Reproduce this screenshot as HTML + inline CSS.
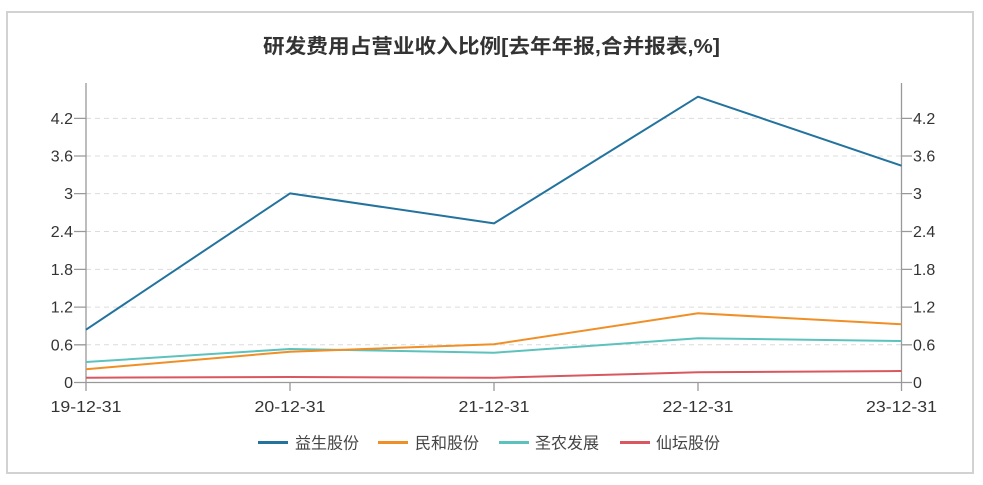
<!DOCTYPE html>
<html><head><meta charset="utf-8"><style>
html,body{margin:0;padding:0;background:#fff;}
svg{display:block;font-family:"Liberation Sans","Noto Sans CJK SC",sans-serif;}
</style></head><body>
<svg width="983" height="485" viewBox="0 0 983 485" xmlns="http://www.w3.org/2000/svg">
<rect x="0" y="0" width="983" height="485" fill="#fff"/>
<rect x="7" y="12" width="966" height="461" fill="#fff" stroke="#d2d2d2" stroke-width="2"/>
<text x="491.5" y="53" text-anchor="middle" font-size="20" font-weight="bold" fill="#333" textLength="457" lengthAdjust="spacingAndGlyphs">研发费用占营业收入比例[去年年报,合并报表,%]</text>
<g stroke="#dcdcdc" stroke-width="1" stroke-dasharray="5,4">
<line x1="86" y1="344.8" x2="901.5" y2="344.8"/>
<line x1="86" y1="307.1" x2="901.5" y2="307.1"/>
<line x1="86" y1="269.4" x2="901.5" y2="269.4"/>
<line x1="86" y1="231.5" x2="901.5" y2="231.5"/>
<line x1="86" y1="193.6" x2="901.5" y2="193.6"/>
<line x1="86" y1="156" x2="901.5" y2="156"/>
<line x1="86" y1="118.4" x2="901.5" y2="118.4"/>
</g>
<g stroke="#999" stroke-width="1.3" fill="none">
<line x1="86" y1="83" x2="86" y2="383"/>
<line x1="901.5" y1="83" x2="901.5" y2="383"/>
<line x1="86" y1="382.5" x2="901.5" y2="382.5"/>
<line x1="86" y1="382.5" x2="86" y2="391"/>
<line x1="290" y1="382.5" x2="290" y2="391"/>
<line x1="494" y1="382.5" x2="494" y2="391"/>
<line x1="698" y1="382.5" x2="698" y2="391"/>
<line x1="901.5" y1="382.5" x2="901.5" y2="391"/>
<path d="M74 382.5H86M74 344.8H86M74 307.1H86M74 269.4H86M74 231.5H86M74 193.6H86M74 156H86M74 118.4H86"/>
<path d="M901.5 382.5H912M901.5 344.8H912M901.5 307.1H912M901.5 269.4H912M901.5 231.5H912M901.5 193.6H912M901.5 156H912M901.5 118.4H912"/>
</g>
<g font-size="16" fill="#333" text-anchor="end">
<text x="73" y="388">0</text>
<text x="73" y="350.3">0.6</text>
<text x="73" y="312.6">1.2</text>
<text x="73" y="274.9">1.8</text>
<text x="73" y="237">2.4</text>
<text x="73" y="199.1">3</text>
<text x="73" y="161.5">3.6</text>
<text x="73" y="123.9">4.2</text>
</g>
<g font-size="16" fill="#333" text-anchor="start">
<text x="913" y="388">0</text>
<text x="913" y="350.3">0.6</text>
<text x="913" y="312.6">1.2</text>
<text x="913" y="274.9">1.8</text>
<text x="913" y="237">2.4</text>
<text x="913" y="199.1">3</text>
<text x="913" y="161.5">3.6</text>
<text x="913" y="123.9">4.2</text>
</g>
<g font-size="16" fill="#333" text-anchor="middle">
<text x="86" y="412" textLength="71" lengthAdjust="spacingAndGlyphs">19-12-31</text>
<text x="290" y="412" textLength="71" lengthAdjust="spacingAndGlyphs">20-12-31</text>
<text x="494" y="412" textLength="71" lengthAdjust="spacingAndGlyphs">21-12-31</text>
<text x="698" y="412" textLength="71" lengthAdjust="spacingAndGlyphs">22-12-31</text>
<text x="901.5" y="412" textLength="71" lengthAdjust="spacingAndGlyphs">23-12-31</text>
</g>
<g fill="none" stroke-width="2" stroke-linejoin="round">
<polyline stroke="#d9575e" points="86,377.7 290,377 494,377.8 698,372.3 901.5,371"/>
<polyline stroke="#5cc2bd" points="86,362 290,349 494,352.7 698,338.3 901.5,341"/>
<polyline stroke="#f08f26" points="86,369.3 290,351.7 494,344.3 698,313.3 901.5,324.3"/>
<polyline stroke="#23739e" points="86,329.7 290,193.4 494,223.4 698,96.7 901.5,165.7"/>
</g>
<g stroke-width="3">
<line x1="258" y1="442.5" x2="288" y2="442.5" stroke="#23739e"/>
<line x1="378" y1="442.5" x2="408" y2="442.5" stroke="#f08f26"/>
<line x1="499" y1="442.5" x2="529" y2="442.5" stroke="#5cc2bd"/>
<line x1="620" y1="442.5" x2="650" y2="442.5" stroke="#d9575e"/>
</g>
<g font-size="16" fill="#444">
<text x="295" y="448.5">益生股份</text>
<text x="415" y="448.5">民和股份</text>
<text x="535" y="448.5">圣农发展</text>
<text x="656" y="448.5">仙坛股份</text>
</g>
</svg>
</body></html>
